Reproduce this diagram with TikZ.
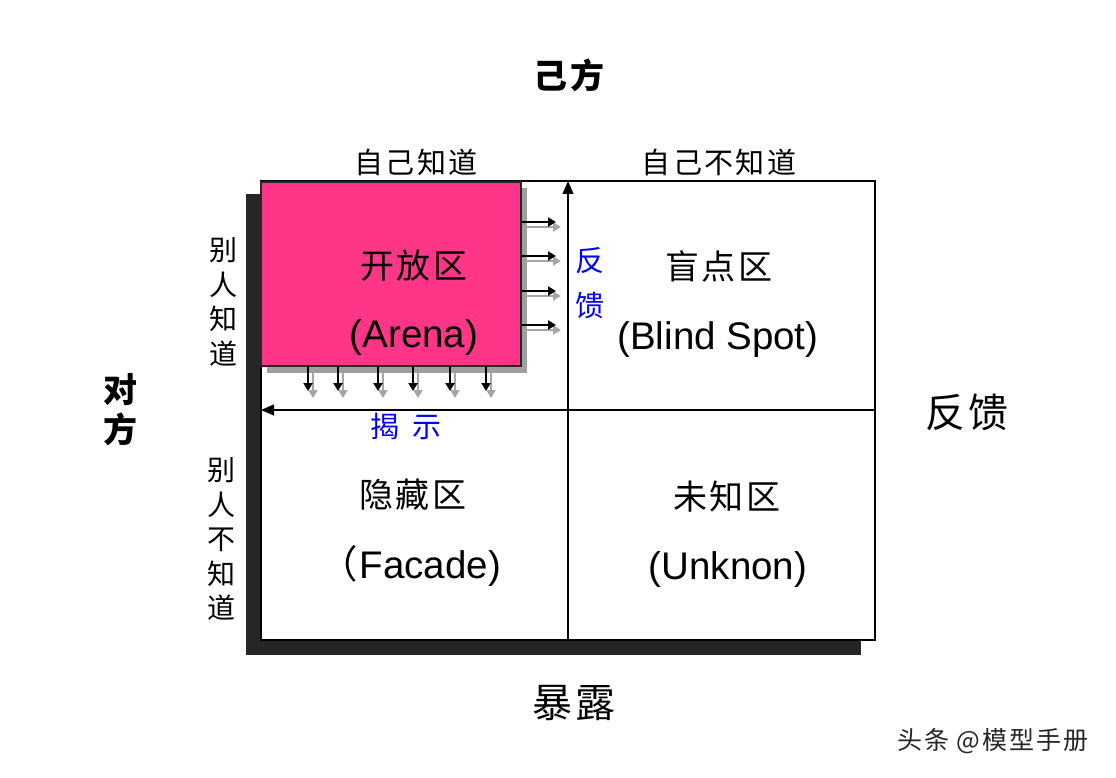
\documentclass[tikz,border=0pt]{standalone}
\usepackage{fontspec}
\setmainfont{Liberation Sans}
\newfontfamily\cjk[LetterSpace=8]{Noto Sans CJK SC}
\usetikzlibrary{arrows.meta}
\definecolor{pinkfill}{RGB}{255,54,136}
\definecolor{shadowdark}{RGB}{38,38,38}
\definecolor{textblue}{RGB}{0,0,255}
\begin{document}
\begin{tikzpicture}[x=1pt,y=-1pt,
  zh/.style={inner sep=0pt, font=\cjk\fontsize{29}{33}\selectfont},
  zhbig/.style={inner sep=0pt, font=\cjk\fontsize{34}{40}\selectfont},
  zhbold/.style={inner sep=0pt, font=\cjk\bfseries\fontsize{34}{40}\selectfont},
  zhvert/.style={inner sep=0pt, align=center, font=\cjk\fontsize{28}{34.5}\selectfont},
  blue/.style={text=textblue},
  latin/.style={inner sep=0pt, font=\fontsize{38.5}{44}\selectfont},
  bigarrow/.style={line width=1.3pt, -{Triangle[width=11pt,length=13pt]}},
  smallarrow/.style={line width=2.2pt, -{Triangle[width=9pt,length=8pt]}},
  smallshadow/.style={line width=2.2pt, gray!70, -{Triangle[width=9pt,length=8pt]}},
]
\useasboundingbox (0,0) rectangle (1116,778);
% frame shadow and frame
\fill[shadowdark] (246,194) rectangle (861,655);
\draw[fill=white, line width=1.3pt] (261,181) rectangle (875,640);
% pink box with shadow
\fill[gray!75] (267,188) rectangle (527,373);
\draw[fill=pinkfill, line width=1.3pt, draw=shadowdark] (261,182) rectangle (521,366);
% small arrows to the right
\foreach \yy [count=\i] in {222,256,291,325} {
  \coordinate (ra\i) at (522,\yy);
  \coordinate (rb\i) at (556,\yy);
  \coordinate (rsa\i) at (526,\yy+5);
  \coordinate (rsb\i) at (561,\yy+5);
  \draw[smallshadow] (rsa\i) -- (rsb\i);
  \draw[smallarrow] (ra\i) -- (rb\i);
}
% small arrows downward
\foreach \xx [count=\i] in {308,338,378,413,450,486} {
  \coordinate (da\i) at (\xx,367);
  \coordinate (db\i) at (\xx,391);
  \coordinate (dsa\i) at (\xx+5,373);
  \coordinate (dsb\i) at (\xx+5,398);
  \draw[smallshadow] (dsa\i) -- (dsb\i);
  \draw[smallarrow] (da\i) -- (db\i);
}
% dividing arrows
\coordinate (vbot) at (568,640);
\coordinate (vtop) at (568,181);
\coordinate (hright) at (875,410);
\coordinate (hleft) at (261,410);
\draw[bigarrow] (vbot) -- (vtop);
\draw[bigarrow] (hright) -- (hleft);
% titles
\node[zhbold] (own) at (569,75) {己方};
\node[zhbold, align=center, font=\cjk\bfseries\fontsize{34}{40}\selectfont] (other) at (120,410) {对\\方};
\node[zh] (selfknow) at (416,162) {自己知道};
\node[zh] (selfunknow) at (719,162) {自己不知道};
\node[zhvert] (othersknow) at (223,302) {别\\人\\知\\道};
\node[zhvert] (othersunknow) at (221,539) {别\\人\\不\\知\\道};
% quadrant labels
\node[zhbig] (arenazh) at (414,266) {开放区};
\node[latin] (arena) at (414,338) {(Arena)};
\node[zhbig] (blindzh) at (719,266) {盲点区};
\node[latin] (blind) at (718,340) {(Blind Spot)};
\node[zhbig] (facadezh) at (413,495) {隐藏区};
\node[latin] (facade) at (410,566) {{\cjk （}\hspace{2pt}Facade)};
\node[zhbig] (unknownzh) at (727,497) {未知区};
\node[latin] (unknown) at (728,570) {(Unknon)};
% blue labels
\node[zhvert, blue, font=\cjk\fontsize{29}{45}\selectfont] (fbblue) at (590,283) {反\\馈};
\node[zh, blue] (reveal) at (406,426) {揭\hspace{14pt}示};
% outside labels
\node[zhbig, font=\cjk\fontsize{40}{44}\selectfont] (feedback) at (967,412) {反馈};
\node[zhbig, font=\cjk\fontsize{40}{44}\selectfont] (expose) at (574,703) {暴露};
\node[zh, font=\cjk\fontsize{25}{30}\selectfont, text=black!85] (wm) at (993,741) {头条 @模型手册};
\end{tikzpicture}
\end{document}
